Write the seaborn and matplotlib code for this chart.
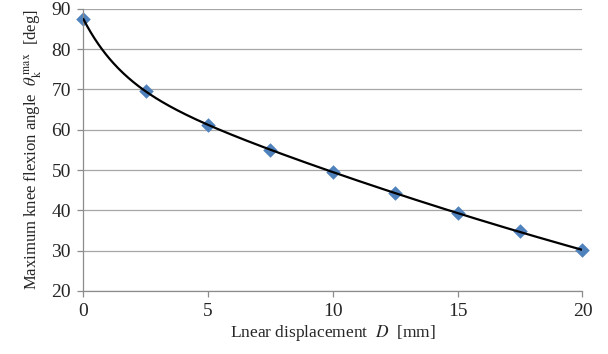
import numpy as np
import pandas as pd
import seaborn as sns
import matplotlib
matplotlib.use("Agg")
import matplotlib.pyplot as plt

displacement = [0, 2.5, 5, 7.5, 10, 12.5, 15, 17.5, 20]
angle = [87.5, 69.5, 61.3, 55.0, 49.5, 44.2, 39.3, 34.8, 30.1]
x_ticks = [0, 5, 10, 15, 20]
y_ticks = [20, 30, 40, 50, 60, 70, 80, 90]

sns.set_theme(style="white")
plt.rcParams["font.family"] = ["Liberation Serif", "DejaVu Serif"]
plt.rcParams["mathtext.fontset"] = "stix"

df = pd.DataFrame({"D": displacement, "theta": angle})

# smooth trend curve fitted to the data: a + b*exp(-c*D) + d*D (+ e*D^2)
X = np.asarray(displacement, float); Y = np.asarray(angle, float)
best = None
for c in np.linspace(0.05, 2.0, 400):
    A = np.column_stack([np.ones_like(X), np.exp(-c*X), X, X**2])
    coef, *_ = np.linalg.lstsq(A, Y, rcond=None)
    err = np.sum((A @ coef - Y)**2)
    if best is None or err < best[0]:
        best = (err, c, coef)
_, c_best, coef = best
sx = np.linspace(X.min(), X.max(), 400)
sy = np.column_stack([np.ones_like(sx), np.exp(-c_best*sx), sx, sx**2]) @ coef
smooth = pd.DataFrame({"D": sx, "theta": sy})

fig, ax = plt.subplots(figsize=(6.08, 3.54), dpi=100)
fig.subplots_adjust(left=0.137, right=0.958, top=0.975, bottom=0.178)

sns.scatterplot(data=df, x="D", y="theta", marker="D", s=55, color="#4F81BD",
                edgecolor="#4F81BD", linewidth=0, ax=ax, zorder=2, clip_on=False)
sns.lineplot(data=smooth, x="D", y="theta", color="black", linewidth=1.6,
             sort=False, ax=ax, zorder=3)

ax.set_xlim(0, 20)
ax.set_ylim(20, 90)
ax.set_xticks(x_ticks)
ax.set_yticks(y_ticks)
ax.yaxis.grid(True, color="#A6A6A6", linewidth=0.9)
ax.xaxis.grid(False)
for s in ["top", "right"]:
    ax.spines[s].set_visible(False)
for s in ["left", "bottom"]:
    ax.spines[s].set_color("#8C8C8C")
    ax.spines[s].set_linewidth(0.9)
ax.tick_params(axis="both", which="major", direction="out", length=4, width=0.9,
               color="#8C8C8C", labelsize=14, pad=5, left=True, bottom=True)
ax.set_xlabel(r"Lnear displacement  $D$  [mm]", fontsize=12.5, labelpad=2)
ax.set_ylabel(r"Maximum knee flexion angle  $\theta_\mathrm{k}^{\,\mathrm{max}}$  [deg]",
              fontsize=12, labelpad=5)

fig.savefig("out.png", dpi=100)
